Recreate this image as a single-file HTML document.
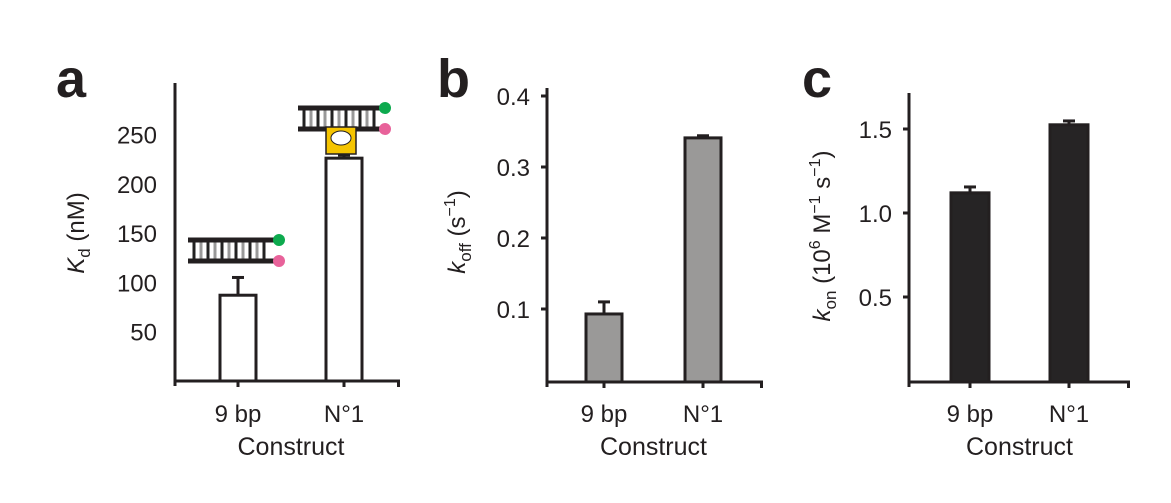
<!DOCTYPE html>
<html><head><meta charset="utf-8"><style>
body{margin:0;background:#fff;}
svg{display:block;font-family:"Liberation Sans",Arial,sans-serif;}
</style></head><body>
<svg id="chart" width="1171" height="503" viewBox="0 0 1171 503">
<g id="dna"></g>
</svg>
<script>
const categories=["9 bp","N°1"];
const kdValues=[87,226];
const kdErrors=[105,229];
const kdTicks=[50,100,150,200,250];
const koffValues=[0.093,0.341];
const koffErrors=[0.110,0.344];
const koffTicks=[0.1,0.2,0.3,0.4];
const konValues=[1.12,1.525];
const konErrors=[1.155,1.548];
const konTicks=["0.5","1.0","1.5"];

const svg=document.getElementById('chart');
const NS='http://www.w3.org/2000/svg';
function el(tag,attrs,parent){const e=document.createElementNS(NS,tag);for(const k in attrs)e.setAttribute(k,attrs[k]);(parent||svg).appendChild(e);return e;}

const panels=[
 {letter:'a',lx:56,ax:175,top:83,xEnd:400,base:381,y0:381,scale:0.986,ticks:kdTicks,vals:kdValues,errs:kdErrors,cx:[238,344],bw:36,fill:'#fff',tickMarks:false,tickLabelX:157,fmt:v=>String(v)},
 {letter:'b',lx:437,ax:547,top:88,xEnd:763,base:382,y0:380,scale:710,ticks:koffTicks,vals:koffValues,errs:koffErrors,cx:[604,703],bw:36,fill:'#9a9998',tickMarks:true,tickLabelX:530,fmt:v=>v.toFixed(1)},
 {letter:'c',lx:802,ax:909,top:93,xEnd:1130,base:382,y0:381,scale:168,ticks:konTicks,vals:konValues,errs:konErrors,cx:[970,1069],bw:38,fill:'#262425',tickMarks:true,tickLabelX:892,fmt:v=>v}
];
panels.forEach((p,pi)=>{
 const g=el('g',{});
 
 
 const Y=v=>p.y0-parseFloat(v)*p.scale;
 const L=el('text',{x:p.lx,y:97,'font-size':54,'font-weight':'bold',fill:'#231f20'},g);L.textContent=p.letter;
 
 p.vals.forEach((v,i)=>{
  const x=p.cx[i]-p.bw/2;
  const e1=el('line',{x1:p.cx[i],x2:p.cx[i],y1:Y(v),y2:Y(p.errs[i]),stroke:'#231f20','stroke-width':3},g);
  
  const e2=el('line',{x1:p.cx[i]-6,x2:p.cx[i]+6,y1:Y(p.errs[i]),y2:Y(p.errs[i]),stroke:'#231f20','stroke-width':3},g);
  
  const r=el('rect',{x:x,y:Y(v),width:p.bw,height:p.base-Y(v),fill:p.fill,stroke:'#231f20','stroke-width':3},g);
  
  const t=el('text',{x:p.cx[i],y:422,'font-size':24,'text-anchor':'middle',fill:'#231f20'},g);t.textContent=categories[i];
  
  const tm=el('line',{x1:p.cx[i],x2:p.cx[i],y1:p.base,y2:p.base+6,stroke:'#231f20','stroke-width':3},g);
  
 });
 const ya=el('line',{x1:p.ax,x2:p.ax,y1:p.top,y2:p.base+5,stroke:'#231f20','stroke-width':3},g);
 
 const xa=el('line',{x1:p.ax,x2:p.xEnd,y1:p.base,y2:p.base,stroke:'#231f20','stroke-width':3},g);
 
 const xe=el('line',{x1:p.xEnd-1.5,x2:p.xEnd-1.5,y1:p.base,y2:p.base+6,stroke:'#231f20','stroke-width':3},g);
 
 p.ticks.forEach(v=>{
  const t=el('text',{x:p.tickLabelX,y:Y(v)+9,'font-size':24,'text-anchor':'end',fill:'#231f20'},g);t.textContent=p.fmt(v);
  
  if(p.tickMarks){const tm=el('line',{x1:p.ax-6,x2:p.ax,y1:Y(v),y2:Y(v),stroke:'#231f20','stroke-width':3},g);
   }
 });
 const xt=el('text',{x:(p.cx[0]+p.cx[1])/2,y:455,'font-size':25,'text-anchor':'middle',fill:'#231f20'},g);xt.textContent='Construct';
 
});
function ytitle(x,y,html,name){
 const t=el('text',{x:0,y:0,'font-size':24,'text-anchor':'middle',fill:'#231f20',transform:`translate(${x},${y}) rotate(-90)`});
 t.innerHTML=html;
 
 
}
ytitle(84,233,'<tspan font-style="italic">K</tspan><tspan font-size="17" dy="6">d</tspan><tspan dy="-6"> (nM)</tspan>','y-axis-title-kd');
ytitle(465,232,'<tspan font-style="italic">k</tspan><tspan font-size="17" dy="6">off</tspan><tspan dy="-6"> (s</tspan><tspan font-size="16" dy="-10">−1</tspan><tspan dy="10">)</tspan>','y-axis-title-koff');
ytitle(830,236,'<tspan font-style="italic">k</tspan><tspan font-size="17" dy="6">on</tspan><tspan dy="-6"> (10</tspan><tspan font-size="16" dy="-10">6</tspan><tspan dy="10"> M</tspan><tspan font-size="16" dy="-10">−1</tspan><tspan dy="10"> s</tspan><tspan font-size="16" dy="-10">−1</tspan><tspan dy="10">)</tspan>','y-axis-title-kon');
const dna=document.getElementById('dna');
function duplex(x1,x2,yT,yB,g){
 for(let x=x1+6;x<x2-4;x+=7){el('line',{x1:x,x2:x,y1:yT,y2:yB,stroke:(Math.round((x-x1)/7)%2)?'#222':'#999','stroke-width':3},g);}
 el('line',{x1:x1,x2:x2,y1:yT,y2:yT,stroke:'#231f20','stroke-width':5},g);
 el('line',{x1:x1,x2:x2,y1:yB,y2:yB,stroke:'#231f20','stroke-width':5},g);
 el('circle',{cx:x2+5,cy:yT,r:6,fill:'#0daa4e'},g);
 el('circle',{cx:x2+5,cy:yB,r:6,fill:'#e8629a'},g);
}
duplex(188,274,240,261,dna);
duplex(298,380,108,129,dna);
el('rect',{x:326,y:127,width:30,height:27,fill:'#f5c400',stroke:'#231f20','stroke-width':1.5},dna);
el('ellipse',{cx:341,cy:138,rx:10,ry:7,fill:'#fff',stroke:'#231f20','stroke-width':1},dna);
</script>
</body></html>
